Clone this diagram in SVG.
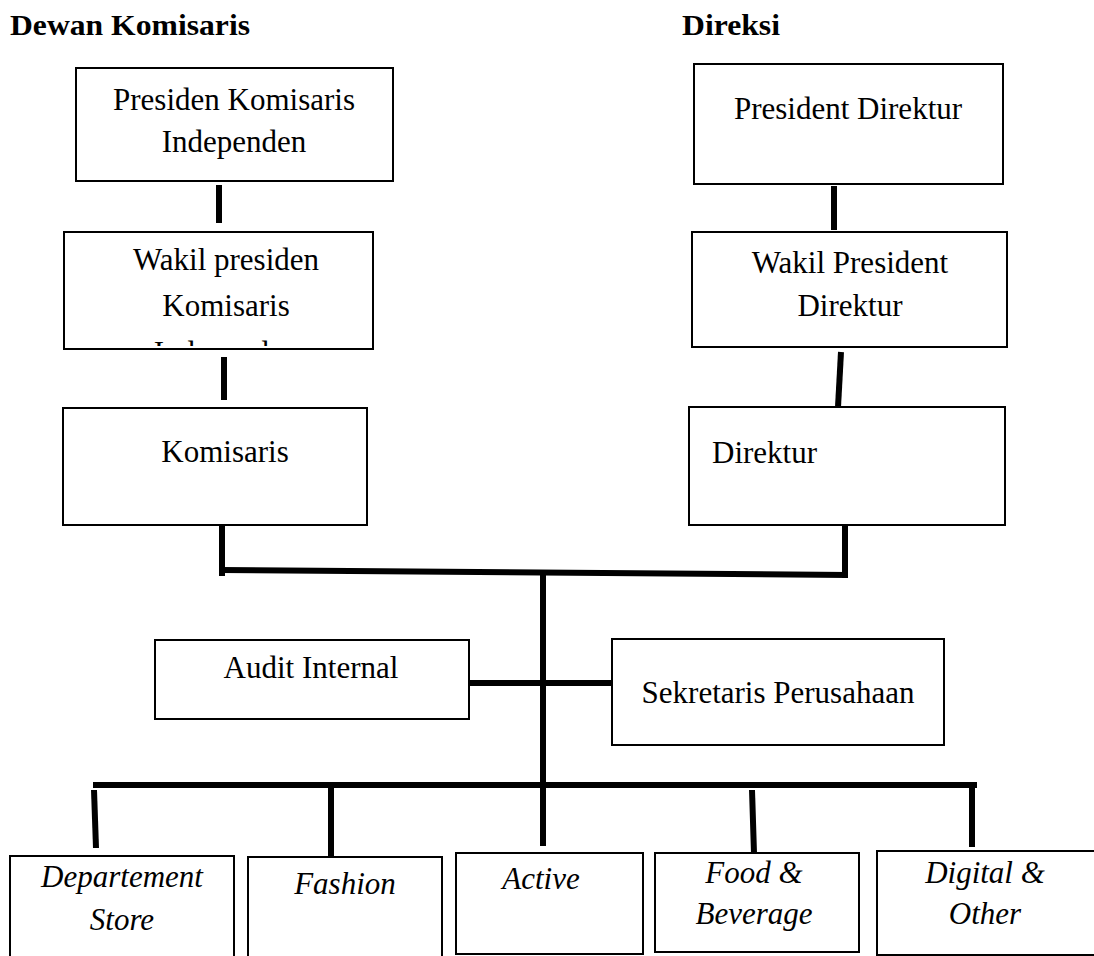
<svg xmlns="http://www.w3.org/2000/svg" width="1094" height="956" viewBox="0 0 1094 956">
<style>
.box{fill:#fff;stroke:#000;stroke-width:2}
.t{font-family:"Liberation Serif","Times New Roman",serif;font-size:31px;fill:#000;text-anchor:middle}
.ti{font-family:"Liberation Serif","Times New Roman",serif;font-size:31px;font-style:italic;fill:#000;text-anchor:middle}
.h{font-family:"Liberation Serif","Times New Roman",serif;font-size:29px;font-weight:bold;fill:#000}
.c{stroke:#000;stroke-width:6;fill:none}
</style>
<defs>
<clipPath id="clipB"><rect x="65" y="233" width="307" height="113"/></clipPath>
</defs>
<rect width="1094" height="956" fill="#fff"/>
<g id="headers">
<text class="h" x="10" y="35" textLength="240" lengthAdjust="spacingAndGlyphs">Dewan Komisaris</text>
<text class="h" x="682" y="35" textLength="98" lengthAdjust="spacingAndGlyphs">Direksi</text>
</g>
<g id="connectors">
<line class="c" x1="219" y1="185" x2="219" y2="223"/>
<line class="c" x1="224" y1="357" x2="224" y2="400"/>
<line class="c" x1="222" y1="518" x2="222" y2="576"/>
<line class="c" x1="221" y1="570" x2="848" y2="575"/>
<line class="c" x1="845" y1="525" x2="845" y2="578"/>
<line class="c" x1="834" y1="186" x2="834" y2="230"/>
<line class="c" x1="841" y1="352" x2="838" y2="407"/>
<line class="c" x1="543" y1="572" x2="543" y2="846"/>
<line class="c" x1="469" y1="683" x2="612" y2="683"/>
<line class="c" x1="93" y1="785" x2="977" y2="785"/>
<line class="c" x1="94" y1="790" x2="96" y2="848"/>
<line class="c" x1="331" y1="788" x2="331" y2="856"/>
<line class="c" x1="752" y1="790" x2="754" y2="853"/>
<line class="c" x1="972" y1="788" x2="972" y2="847"/>
</g>
<g id="presiden-komisaris">
<rect class="box" x="76" y="68" width="317" height="113"/>
<text class="t" x="234" y="110">Presiden Komisaris</text>
<text class="t" x="234" y="152">Independen</text>
</g>
<g id="wakil-presiden-komisaris">
<rect class="box" x="64" y="232" width="309" height="117"/>
<text class="t" x="226" y="270">Wakil presiden</text>
<text class="t" x="226" y="316">Komisaris</text>
<text class="t" x="226" y="363" clip-path="url(#clipB)">Independen</text>
</g>
<g id="komisaris">
<rect class="box" x="63" y="408" width="304" height="117"/>
<text class="t" x="225" y="462">Komisaris</text>
</g>
<g id="president-direktur">
<rect class="box" x="694" y="64" width="309" height="120"/>
<text class="t" x="848" y="119">President Direktur</text>
</g>
<g id="wakil-president-direktur">
<rect class="box" x="692" y="232" width="315" height="115"/>
<text class="t" x="850" y="273">Wakil President</text>
<text class="t" x="850" y="316">Direktur</text>
</g>
<g id="direktur">
<rect class="box" x="689" y="407" width="316" height="118"/>
<text class="t" x="712" y="463" style="text-anchor:start">Direktur</text>
</g>
<g id="audit-internal">
<rect class="box" x="155" y="640" width="314" height="79"/>
<text class="t" x="311" y="678">Audit Internal</text>
</g>
<g id="sekretaris-perusahaan">
<rect class="box" x="612" y="639" width="332" height="106"/>
<text class="t" x="778" y="703">Sekretaris Perusahaan</text>
</g>
<g id="departement-store">
<rect class="box" x="10" y="856" width="224" height="110"/>
<text class="ti" x="122" y="887">Departement</text>
<text class="ti" x="122" y="930">Store</text>
</g>
<g id="fashion">
<rect class="box" x="248" y="857" width="194" height="110"/>
<text class="ti" x="345" y="894">Fashion</text>
</g>
<g id="active">
<rect class="box" x="456" y="853" width="187" height="101"/>
<text class="ti" x="541" y="889">Active</text>
</g>
<g id="food-beverage">
<rect class="box" x="655" y="853" width="204" height="99"/>
<text class="ti" x="754" y="883">Food &amp;</text>
<text class="ti" x="754" y="924">Beverage</text>
</g>
<g id="digital-other">
<rect class="box" x="877" y="851" width="230" height="104"/>
<text class="ti" x="985" y="883">Digital &amp;</text>
<text class="ti" x="985" y="924">Other</text>
</g>
</svg>
